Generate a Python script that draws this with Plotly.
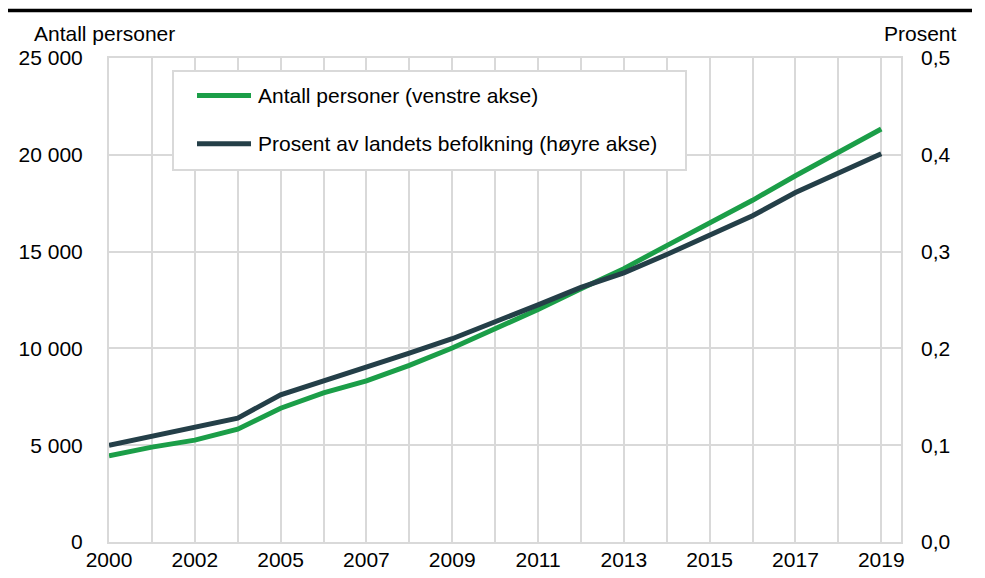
import plotly.graph_objects as go

years = ["2000", "2001", "2002", "2003", "2005", "2006", "2007", "2008", "2009", "2010",
         "2011", "2012", "2013", "2014", "2015", "2016", "2017", "2018", "2019"]
antall_personer = [4450, 4900, 5260, 5830, 6910, 7700, 8320, 9120, 10020, 10980,
                   12010, 13080, 14120, 15310, 16480, 17650, 18920, 20120, 21330]
prosent_befolkning = [0.100, 0.109, 0.118, 0.128, 0.152, 0.166, 0.180, 0.195, 0.210, 0.227,
                      0.245, 0.263, 0.278, 0.297, 0.317, 0.337, 0.361, 0.381, 0.401]
tick_labels = [y if i % 2 == 0 else "" for i, y in enumerate(years)]

name_left = "Antall personer (venstre akse)"
name_right = "Prosent av landets befolkning (høyre akse)"

GREEN = "#1b9e48"
DARK = "#243f48"
GRID = "#d9d9d9"
FONT = "Liberation Sans, Arial, sans-serif"
FS = 21

OFF = 8  # default page body margin
W, H = 985 - OFF, 578 - OFF
# target page-pixel positions of the plot area
L, R, T, B = 109, 901, 58, 542


def px(x):
    return (x - L) / (R - L)


def py(y):
    return (B - y) / (B - T)


fig = go.Figure()
fig.add_trace(go.Scatter(x=years, y=antall_personer, name=name_left, mode="lines",
                         line=dict(color=GREEN, width=5), yaxis="y", showlegend=False))
fig.add_trace(go.Scatter(x=years, y=prosent_befolkning, name=name_right, mode="lines",
                         line=dict(color=DARK, width=5), yaxis="y2", showlegend=False))

shapes = [
    dict(type="line", xref="paper", yref="paper", x0=px(6), x1=px(972), y0=py(10.5), y1=py(10.5),
         line=dict(color="black", width=3.5)),
    dict(type="rect", xref="paper", yref="paper", x0=px(173), x1=px(686), y0=py(170), y1=py(71),
         line=dict(color=GRID, width=2), fillcolor="white", layer="above"),
    dict(type="line", xref="paper", yref="paper", x0=px(197), x1=px(251), y0=py(95.5), y1=py(95.5),
         line=dict(color=GREEN, width=5), layer="above"),
    dict(type="line", xref="paper", yref="paper", x0=px(197), x1=px(251), y0=py(143.8), y1=py(143.8),
         line=dict(color=DARK, width=5), layer="above"),
]

annotations = [
    dict(text="Antall personer", xref="paper", yref="paper", x=px(32), y=py(33),
         xanchor="left", yanchor="middle", showarrow=False, font=dict(size=FS, color="black")),
    dict(text="Prosent", xref="paper", yref="paper", x=px(959), y=py(33),
         xanchor="right", yanchor="middle", showarrow=False, font=dict(size=FS, color="black")),
    dict(text=name_left, xref="paper", yref="paper", x=px(256), y=py(95.5),
         xanchor="left", yanchor="middle", showarrow=False, font=dict(size=FS, color="black")),
    dict(text=name_right, xref="paper", yref="paper", x=px(256), y=py(143.8),
         xanchor="left", yanchor="middle", showarrow=False, font=dict(size=FS, color="black")),
]

fig.update_layout(
    width=W, height=H,
    margin=dict(l=L - OFF, r=985 - R, t=T - OFF, b=578 - B, pad=0, autoexpand=False),
    paper_bgcolor="white", plot_bgcolor="white",
    font=dict(family=FONT, size=FS, color="black"),
    separators=", ",
    showlegend=False,
    shapes=shapes,
    annotations=annotations,
    xaxis=dict(type="category", range=[0, 18.46], tickmode="array", tickvals=years,
               ticktext=tick_labels, showgrid=True, gridcolor=GRID, gridwidth=2,
               showline=True, linecolor=GRID, linewidth=2, mirror=True, ticks="",
               tickfont=dict(size=FS, color="black"), tickangle=0, automargin=False,
               ticklabelstandoff=-2),
    yaxis=dict(range=[0, 25000], dtick=5000, tickformat=",d", showgrid=True, gridcolor=GRID,
               gridwidth=2, zeroline=False, showline=True, linecolor=GRID, linewidth=2,
               mirror=True, ticks="", ticklabelstandoff=20, automargin=False,
               tickfont=dict(size=FS, color="black")),
    yaxis2=dict(range=[0, 0.5], dtick=0.1, tickformat=".1f", overlaying="y", side="right",
                showgrid=False, zeroline=False, showline=False, ticks="", ticklabelstandoff=19,
                automargin=False, tickfont=dict(size=FS, color="black")),
)

fig.write_html("out.html")
